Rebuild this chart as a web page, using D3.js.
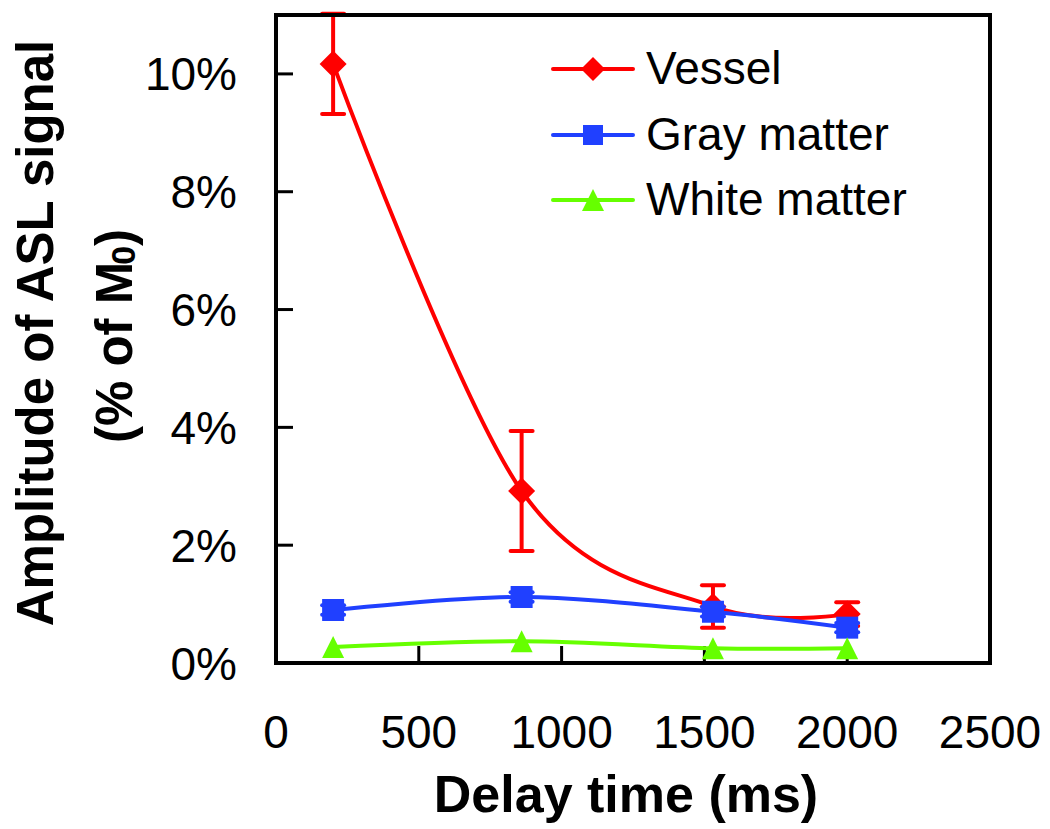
<!DOCTYPE html>
<html>
<head>
<meta charset="utf-8">
<script src="https://cdn.jsdelivr.net/npm/d3@7"></script>
<style>
  html, body { margin: 0; padding: 0; background: #fff; }
  svg { display: block; font-family: "Liberation Sans", Arial, sans-serif; }
</style>
</head>
<body>
<svg id="chart" width="1050" height="829"></svg>
<script>
// ---- data ----
const delays = [200, 860, 1530, 2000];
const vessel = [10.17, 2.92, 0.96, 0.83];
const vesselErr = [0.85, 1.02, 0.36, 0.2];
const grayMatter = [0.90, 1.12, 0.87, 0.60];
const grayErr = [0.08, 0.08, 0.08, 0.08];
const whiteMatter = [0.27, 0.37, 0.25, 0.25];
const whiteErr = [0, 0, 0, 0];
const xTicks = [0, 500, 1000, 1500, 2000, 2500];
const yTicks = [0, 2, 4, 6, 8, 10];
const seriesNames = ["Vessel", "Gray matter", "White matter"];

const series = [
  { name: seriesNames[0], values: vessel, err: vesselErr, color: "#ff0000", marker: "diamond" },
  { name: seriesNames[1], values: grayMatter, err: grayErr, color: "#2040ff", marker: "square" },
  { name: seriesNames[2], values: whiteMatter, err: whiteErr, color: "#66ff00", marker: "triangle" }
];

const svg = d3.select("#chart");
const L = 276, R = 990, T = 15, B = 663;
const x = d3.scaleLinear().domain([0, 2500]).range([L, R]);
const y = d3.scaleLinear().domain([0, 11]).range([B, T]);

// markers
function markerPath(type, s) {
  const h = s / 2;
  if (type === "diamond") return `M0,${-h}L${h},0L0,${h}L${-h},0Z`;
  if (type === "square") return `M${-h},${-h}H${h}V${h}H${-h}Z`;
  // triangle
  return `M0,${-h}L${h},${h}L${-h},${h}Z`;
}
const markerSize = { diamond: 27, square: 22, triangle: 22 };
const legendMarkerSize = { diamond: 24, square: 20, triangle: 22 };

// ticks (inward)
const g = svg.append("g");
g.selectAll(".xt").data(xTicks.filter(d => d > 0 && d < 2500)).enter().append("line")
  .attr("x1", d => x(d)).attr("x2", d => x(d))
  .attr("y1", B).attr("y2", B - 17)
  .attr("stroke", "#000").attr("stroke-width", 3);
g.selectAll(".yt").data(yTicks.filter(d => d > 0)).enter().append("line")
  .attr("x1", L).attr("x2", L + 17)
  .attr("y1", d => y(d)).attr("y2", d => y(d))
  .attr("stroke", "#000").attr("stroke-width", 3);

// tick labels
g.selectAll(".xl").data(xTicks).enter().append("text")
  .attr("x", d => x(d)).attr("y", 748)
  .attr("text-anchor", "middle").attr("font-size", 46)
  .text(d => d);
g.selectAll(".yl").data(yTicks).enter().append("text")
  .attr("x", 237).attr("y", d => y(d)).attr("dy", "0.36em")
  .attr("text-anchor", "end").attr("font-size", 46)
  .text(d => d + "%");

// series
const line = d3.line()
  .x((d, i) => x(delays[i]))
  .y(d => y(d))
  .curve(d3.curveCardinal.tension(0));

series.forEach(s => {
  const sg = svg.append("g");
  sg.append("path").datum(s.values)
    .attr("d", line)
    .attr("fill", "none").attr("stroke", s.color)
    .attr("stroke-width", 4).attr("stroke-linejoin", "round");
  s.values.forEach((v, i) => {
    const e = s.err[i];
    if (e > 0) {
      const cx = x(delays[i]);
      sg.append("line").attr("x1", cx).attr("x2", cx)
        .attr("y1", y(v - e)).attr("y2", y(v + e))
        .attr("stroke", s.color).attr("stroke-width", 4);
      [v - e, v + e].forEach(ev => {
        sg.append("line").attr("x1", cx - 11).attr("x2", cx + 11)
          .attr("y1", y(ev)).attr("y2", y(ev))
          .attr("stroke", s.color).attr("stroke-width", 4).attr("stroke-linecap", "round");
      });
    }
  });
  sg.selectAll("path.m").data(s.values).enter().append("path")
    .attr("class", "m")
    .attr("transform", (d, i) => `translate(${x(delays[i])},${y(d)})`)
    .attr("d", markerPath(s.marker, markerSize[s.marker]))
    .attr("fill", s.color);
});

// frame
svg.append("rect").attr("x", L).attr("y", T).attr("width", R - L).attr("height", B - T)
  .attr("fill", "none").attr("stroke", "#000").attr("stroke-width", 4);

// legend
const legY = [69, 135, 200];
series.forEach((s, i) => {
  const lg = svg.append("g").attr("transform", `translate(0,${legY[i]})`);
  lg.append("line").attr("x1", 553).attr("x2", 633).attr("y1", 0).attr("y2", 0)
    .attr("stroke", s.color).attr("stroke-width", 4).attr("stroke-linecap", "round");
  lg.append("path").attr("transform", "translate(593,0)")
    .attr("d", markerPath(s.marker, legendMarkerSize[s.marker])).attr("fill", s.color);
  lg.append("text").attr("x", 646).attr("y", 15).attr("font-size", 46).text(s.name);
});

// axis titles
svg.append("text").attr("x", 626).attr("y", 812)
  .attr("text-anchor", "middle").attr("font-size", 52).attr("font-weight", "bold")
  .text("Delay time (ms)");

svg.append("text")
  .attr("transform", "translate(53,333) rotate(-90)")
  .attr("text-anchor", "middle").attr("font-size", 51).attr("font-weight", "bold")
  .text("Amplitude of ASL signal");

const t2 = svg.append("text")
  .attr("transform", "translate(132,336) rotate(-90)")
  .attr("text-anchor", "middle").attr("font-size", 51).attr("font-weight", "bold");
t2.append("tspan").text("(% of M");
t2.append("tspan").attr("font-size", 34).attr("dx", -3).attr("dy", 3).text("0");
t2.append("tspan").attr("dy", -3).text(")");
</script>
</body>
</html>
